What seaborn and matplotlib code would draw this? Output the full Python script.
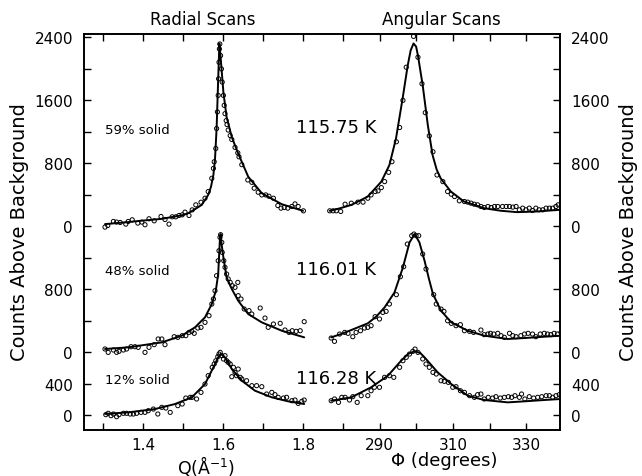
import matplotlib
matplotlib.use("Agg")
import matplotlib.pyplot as plt
import pandas as pd
import seaborn as sns

# radial scans, Q in 1/A, counts above background
q_59 = [1.305, 1.312, 1.326, 1.334, 1.343, 1.357, 1.363, 1.373, 1.387, 1.397, 1.405, 1.415, 1.428,
        1.445, 1.455, 1.465, 1.473, 1.482, 1.49, 1.498, 1.505, 1.515, 1.523, 1.532, 1.545, 1.555,
        1.563, 1.572, 1.576, 1.578, 1.582, 1.584, 1.586, 1.588, 1.589, 1.59, 1.591, 1.592, 1.594,
        1.596, 1.598, 1.601, 1.603, 1.605, 1.608, 1.61, 1.613, 1.618, 1.622, 1.63, 1.637, 1.64,
        1.647, 1.662, 1.672, 1.678, 1.688, 1.697, 1.707, 1.715, 1.726, 1.737, 1.745, 1.753, 1.762,
        1.772, 1.78, 1.788, 1.801]
cnt_q_59 = [-13, 8, 59, 51, 46, 25, 59, 80, 38, 51, 17, 93, 67, 122, 84, 25, 118, 118, 135, 143,
            177, 135, 206, 270, 303, 354, 438, 607, 733, 817, 986, 1239, 1450, 1660, 1871, 2081,
            2250, 2313, 2166, 1997, 1829, 1660, 1534, 1428, 1340, 1290, 1220, 1150, 1100, 1000,
            930, 880, 780, 586, 556, 481, 430, 396, 396, 379, 354, 261, 228, 236, 228, 249, 282,
            249, 194]
fit_q_59 = [1.305, 1.35, 1.40, 1.447, 1.50, 1.513, 1.53, 1.547, 1.563, 1.57, 1.576, 1.58, 1.584,
            1.588, 1.591, 1.594, 1.597, 1.601, 1.609, 1.622, 1.638, 1.663, 1.697, 1.747, 1.80]
fitcnt_q_59 = [25, 45, 70, 92, 140, 164, 215, 270, 396, 500, 650, 850, 1240, 1870, 2320, 2150,
               1955, 1700, 1385, 1130, 922, 628, 417, 278, 194]

q_48 = [1.305, 1.313, 1.326, 1.334, 1.34, 1.351, 1.359, 1.37, 1.38, 1.388, 1.405, 1.415, 1.428,
        1.438, 1.447, 1.455, 1.478, 1.487, 1.498, 1.507, 1.515, 1.522, 1.528, 1.537, 1.545, 1.555,
        1.565, 1.572, 1.576, 1.58, 1.584, 1.588, 1.59, 1.5925, 1.594, 1.597, 1.598, 1.602, 1.605,
        1.609, 1.613, 1.618, 1.623, 1.63, 1.637, 1.638, 1.645, 1.653, 1.665, 1.672, 1.693, 1.705,
        1.713, 1.726, 1.743, 1.755, 1.765, 1.773, 1.783, 1.793, 1.803]
cnt_q_48 = [39, -4, 26, -4, 9, 26, 39, 68, 68, 60, -4, 60, 94, 166, 166, 94, 195, 187, 208, 208,
            250, 263, 238, 305, 314, 377, 462, 610, 674, 779, 970, 1160, 1287, 1457, 1491, 1393,
            1266, 1160, 1076, 991, 928, 885, 843, 822, 885, 716, 674, 547, 526, 483, 559, 432,
            314, 356, 365, 280, 250, 271, 263, 271, 386]
fit_q_48 = [1.305, 1.363, 1.447, 1.497, 1.53, 1.555, 1.572, 1.582, 1.588, 1.5925, 1.594, 1.597,
            1.601, 1.609, 1.622, 1.638, 1.663, 1.697, 1.747, 1.803]
fitcnt_q_48 = [39, 60, 123, 208, 314, 441, 610, 779, 991, 1457, 1499, 1350, 1203, 949, 801, 652,
               483, 377, 271, 187]

q_12 = [1.307, 1.313, 1.32, 1.326, 1.334, 1.34, 1.351, 1.359, 1.368, 1.376, 1.384, 1.395, 1.405,
        1.413, 1.426, 1.437, 1.447, 1.457, 1.468, 1.487, 1.498, 1.507, 1.518, 1.523, 1.534, 1.545,
        1.555, 1.563, 1.573, 1.578, 1.582, 1.587, 1.59, 1.593, 1.597, 1.601, 1.605, 1.609, 1.613,
        1.618, 1.622, 1.626, 1.63, 1.634, 1.638, 1.643, 1.647, 1.659, 1.672, 1.684, 1.697, 1.709,
        1.722, 1.73, 1.738, 1.751, 1.759, 1.772, 1.78, 1.788, 1.797, 1.803]
cnt_q_12 = [5, 22, -8, 13, -21, 5, 22, 22, 13, 13, 22, 34, 34, 55, 76, 13, 98, 89, 34, 119, 140,
            216, 225, 225, 204, 288, 394, 500, 606, 648, 690, 741, 775, 796, 754, 712, 754, 690,
            669, 648, 487, 606, 542, 500, 584, 479, 458, 436, 373, 373, 360, 267, 288, 259, 225,
            216, 225, 182, 191, 148, 174, 191]
fit_q_12 = [1.305, 1.363, 1.43, 1.48, 1.522, 1.555, 1.576, 1.588, 1.595, 1.605, 1.622, 1.647, 1.68,
            1.722, 1.763, 1.803]
fitcnt_q_12 = [15, 34, 76, 140, 225, 394, 606, 733, 775, 733, 584, 436, 309, 225, 174, 140]

# angular scans, phi in degrees
phi_59 = [276.3, 277.2, 278.1, 279.3, 280.5, 282.2, 284.0, 285.4, 286.7, 287.6, 288.7, 289.5,
          290.4, 291.3, 292.4, 293.3, 294.5, 295.4, 296.3, 297.2, 299.2, 300.4, 301.5, 302.4,
          303.5, 304.5, 305.6, 307.2, 308.5, 309.5, 310.4, 311.7, 313.1, 314.0, 314.9, 315.8,
          316.7, 317.6, 318.5, 319.5, 320.4, 321.3, 322.2, 323.5, 324.5, 325.4, 326.3, 327.2,
          328.1, 329.0, 329.9, 330.8, 331.7, 332.6, 333.5, 334.5, 335.4, 336.3, 337.2, 338.1, 338.7]
cnt_phi_59 = [194, 194, 194, 186, 278, 291, 304, 304, 354, 396, 439, 447, 489, 565, 683, 818,
              1071, 1252, 1597, 2018, 2410, 2145, 1808, 1441, 1146, 944, 649, 565, 439, 405, 375,
              321, 312, 304, 291, 278, 270, 249, 236, 249, 236, 249, 249, 249, 249, 249, 241, 249,
              207, 228, 207, 228, 198, 228, 207, 207, 228, 228, 228, 249, 270]
fit_phi_59 = [276.3, 279.0, 282.2, 286.7, 290.4, 292.6, 294.4, 296.2, 297.6, 298.4, 299.2, 299.9,
              300.4, 301.7, 303.1, 304.4, 305.5, 306.6, 309.4, 313.0, 318.4, 323.0, 327.5, 333.0,
              338.9]
fitcnt_phi_59 = [194, 225, 269, 375, 565, 775, 1112, 1618, 2039, 2230, 2320, 2280, 2166, 1787,
                 1281, 901, 720, 607, 438, 312, 228, 195, 177, 186, 206]

phi_48 = [276.7, 277.6, 279.0, 280.4, 281.3, 282.6, 283.5, 284.7, 285.8, 286.7, 287.6, 288.7,
          289.9, 290.8, 291.7, 292.6, 294.5, 295.6, 296.5, 297.5, 298.7, 299.3, 299.9, 300.6,
          301.7, 302.6, 304.7, 305.4, 306.7, 307.5, 308.5, 309.5, 310.8, 312.0, 313.1, 314.5,
          315.6, 317.6, 318.5, 319.5, 320.2, 321.1, 322.2, 323.1, 324.0, 325.4, 326.3, 327.2,
          328.5, 329.5, 330.5, 331.7, 332.6, 333.8, 334.9, 335.8, 336.7, 337.6, 338.5, 339.5]
cnt_phi_48 = [178, 136, 229, 250, 238, 195, 250, 271, 305, 314, 335, 449, 420, 504, 517, 610, 729,
              957, 1084, 1372, 1478, 1499, 1478, 1478, 1245, 1055, 729, 610, 546, 517, 398, 365,
              335, 348, 271, 263, 250, 280, 221, 229, 238, 229, 238, 208, 187, 238, 208, 195, 208,
              229, 238, 229, 195, 229, 238, 229, 221, 238, 229, 250]
fit_phi_48 = [276.7, 279.5, 282.2, 286.7, 289.0, 291.3, 294.0, 296.3, 298.1, 299.5, 300.8, 302.2,
              303.4, 304.5, 306.7, 309.5, 314.0, 318.5, 324.9, 329.5, 334.9, 339.5]
fitcnt_phi_48 = [187, 230, 280, 365, 450, 568, 758, 1076, 1393, 1499, 1393, 1160, 930, 737, 525,
                 377, 271, 208, 166, 178, 195, 208]

phi_12 = [276.7, 277.6, 278.7, 279.6, 280.5, 281.7, 282.6, 283.8, 284.9, 286.7, 287.6, 288.5,
          289.9, 291.3, 292.6, 293.8, 295.4, 296.3, 297.2, 298.1, 299.0, 299.6, 300.4, 301.7,
          302.6, 303.5, 304.5, 305.4, 306.7, 307.6, 308.7, 309.9, 310.8, 312.0, 313.1, 314.5,
          315.8, 316.7, 317.6, 318.5, 319.6, 320.8, 321.7, 322.9, 324.0, 325.1, 326.0, 326.9,
          328.1, 328.7, 329.6, 330.8, 332.0, 333.1, 334.2, 335.4, 336.3, 337.2, 338.1, 339.0]
cnt_phi_12 = [182, 204, 161, 225, 225, 191, 233, 161, 246, 246, 309, 352, 352, 479, 500, 479, 606,
              690, 733, 775, 809, 838, 796, 712, 648, 606, 542, 521, 436, 428, 415, 352, 360, 309,
              288, 246, 225, 259, 267, 204, 225, 216, 233, 216, 225, 233, 225, 246, 225, 267, 204,
              233, 216, 225, 233, 246, 246, 225, 246, 259]
fit_phi_12 = [276.7, 282.2, 287.6, 292.2, 295.8, 297.8, 299.5, 301.0, 302.2, 305.8, 309.5, 314.0,
              318.5, 324.9, 329.5, 334.9, 339.5]
fitcnt_phi_12 = [182, 225, 352, 500, 690, 780, 809, 790, 733, 542, 394, 246, 191, 161, 174, 191,
                 204]

# vertical offset of each scan, top to bottom
offsets = [2400, 800, 0]
solid_labels = ["59% solid", "48% solid", "12% solid"]
temp_labels = ["115.75 K", "116.01 K", "116.28 K"]

ytick_pos = list(range(0, 4801, 400))
ytick_lab = ["0", "400", "0", "", "800", "", "0", "", "800", "", "1600", "", "2400"]

sns.set_style("ticks")
plt.rcParams["font.family"] = ["DejaVu Sans"]
plt.rcParams.update({"text.color": "black", "axes.edgecolor": "black",
                     "xtick.color": "black", "ytick.color": "black",
                     "axes.labelcolor": "black"})

W, H = 642, 477
fig = plt.figure(figsize=(W / 100, H / 100), dpi=100)
left, split, right, top, bottom = 84, 318, 560, 35, 431
ax_q = fig.add_axes([left / W, 1 - bottom / H, (split - left) / W, (bottom - top) / H])
ax_phi = fig.add_axes([split / W, 1 - bottom / H, (right - split) / W, (bottom - top) / H])

radial = [(q_59, cnt_q_59, fit_q_59, fitcnt_q_59),
          (q_48, cnt_q_48, fit_q_48, fitcnt_q_48),
          (q_12, cnt_q_12, fit_q_12, fitcnt_q_12)]
angular = [(phi_59, cnt_phi_59, fit_phi_59, fitcnt_phi_59),
           (phi_48, cnt_phi_48, fit_phi_48, fitcnt_phi_48),
           (phi_12, cnt_phi_12, fit_phi_12, fitcnt_phi_12)]

for ax, scans in [(ax_q, radial), (ax_phi, angular)]:
    for (x, c, fx, fc), off in zip(scans, offsets):
        pts = pd.DataFrame({"x": x, "y": [v + off for v in c]})
        fit = pd.DataFrame({"x": fx, "y": [v + off for v in fc]})
        sns.lineplot(data=fit, x="x", y="y", ax=ax, color="black", linewidth=1.4,
                     estimator=None, sort=False)
        sns.scatterplot(data=pts, x="x", y="y", ax=ax, marker="o", s=9, color="none",
                        edgecolor="black", linewidth=0.7, zorder=3)

for ax in (ax_q, ax_phi):
    ax.set_ylim(-190, 4840)
    ax.set_xlabel("")
    ax.set_ylabel("")
    for s in ax.spines.values():
        s.set_linewidth(1.4)
        s.set_color("black")
    ax.tick_params(axis="both", direction="in", length=5, width=1.0, labelsize=11,
                   top=True, bottom=True, colors="black")
    ax.tick_params(axis="x", pad=5)

ax_q.set_xlim(1.2525, 1.8375)
ax_q.set_xticks([1.3, 1.4, 1.5, 1.6, 1.7, 1.8])
ax_q.set_xticklabels(["", "1.4", "", "1.6", "", "1.8"])
ax_q.spines["right"].set_visible(False)
ax_q.set_yticks(ytick_pos)
ax_q.set_yticklabels(ytick_lab)
ax_q.tick_params(axis="y", left=True, right=False, pad=8)

ax_phi.set_xlim(273.1, 339.2)
ax_phi.set_xticks([280, 290, 300, 310, 320, 330])
ax_phi.set_xticklabels(["", "290", "", "310", "", "330"])
ax_phi.spines["left"].set_visible(False)
ax_phi.yaxis.tick_right()
ax_phi.set_yticks(ytick_pos)
ax_phi.set_yticklabels(ytick_lab)
ax_phi.tick_params(axis="y", left=False, right=True, pad=8)


def ftext(px, py, s, **kw):
    fig.text(px / W, 1 - py / H, s, **kw)


ftext(203, 20, "Radial Scans", ha="center", va="center", fontsize=12)
ftext(441, 20, "Angular Scans", ha="center", va="center", fontsize=12)
ftext(206, 454, r"Q($\mathrm{\AA}^{-1}$)", ha="center", va="top", fontsize=12.5)
ftext(444, 461, "Φ (degrees)", ha="center", va="center", fontsize=13)
ftext(20, 232, "Counts Above Background", rotation=90, ha="center", va="center", fontsize=14)
ftext(628, 232, "Counts Above Background", rotation=90, ha="center", va="center", fontsize=14)

for lab, t, py in zip(solid_labels, temp_labels, [130, 272, 381]):
    ftext(105, py, lab, ha="left", va="center", fontsize=9.5)
    ftext(296, py - 2, t, ha="left", va="center", fontsize=13)

fig.savefig("out.png", dpi=100)
